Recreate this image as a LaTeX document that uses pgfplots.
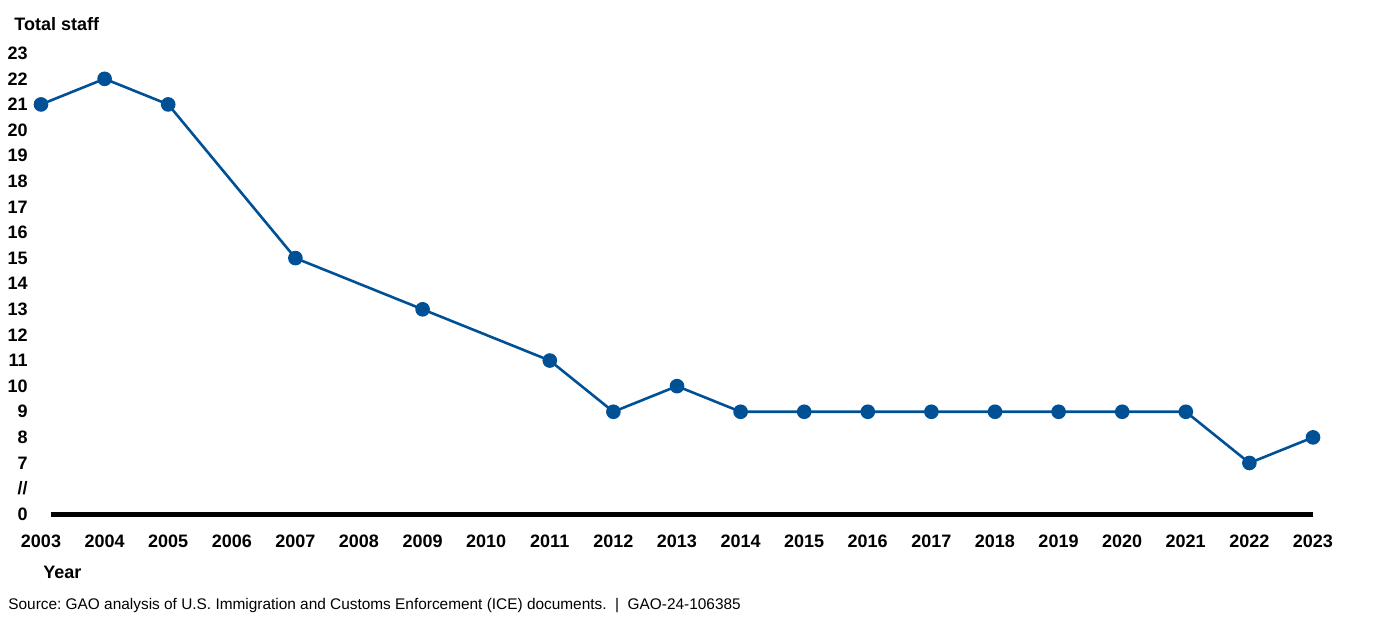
\documentclass[border=0pt]{standalone}
\usepackage{fontspec}
\setmainfont{Liberation Sans}
\usepackage{pgfplots}
\pgfplotsset{compat=1.18}
\definecolor{gaoblue}{RGB}{0,80,150}
\frenchspacing
\begin{document}
\begin{tikzpicture}
\path[use as bounding box] (0,0) rectangle (692pt,314.5pt);
\begin{axis}[
at={(20.5pt,57.4pt)}, anchor=south west,
scale only axis, width=636pt, height=230.5pt,
xmin=2003, xmax=2023, ymin=5, ymax=23,
axis line style={draw=none}, clip=false,
xtick={2003,...,2023}, ytick={5,...,23},
yticklabels={0,//,7,8,9,10,11,12,13,14,15,16,17,18,19,20,21,22,23},
major tick length=0pt, tick style={draw=none},
/pgf/number format/assume math mode=true,
/pgf/number format/1000 sep={},
tick label style={font=\fontsize{9}{11}\selectfont\bfseries, inner sep=0pt},
yticklabel style={anchor=east, xshift=-6.5pt},
xticklabel style={anchor=north, yshift=-10.4pt},
]
\addplot[black, line width=2.5pt, mark=none] coordinates {(2003.15,5) (2023,5)};
\addplot[gaoblue, line width=1.3pt, mark=*, mark size=3pt, mark options={fill=gaoblue, draw=gaoblue}] coordinates {
(2003,21) (2004,22) (2005,21) (2007,15) (2009,13) (2011,11) (2012,9) (2013,10)
(2014,9) (2015,9) (2016,9) (2017,9) (2018,9) (2019,9) (2020,9) (2021,9)
(2022,7) (2023,8)
};
\end{axis}
\node[anchor=base west, inner sep=0pt, font=\fontsize{9}{11}\selectfont\bfseries] at (7pt,299.5pt) {Total staff};
\node[anchor=base west, inner sep=0pt, font=\fontsize{9}{11}\selectfont\bfseries] at (21.5pt,25.5pt) {Year};
\node[anchor=base west, inner sep=0pt, font=\fontsize{7.7}{9}\selectfont] at (4pt,10pt) {Source: GAO analysis of U.S. Immigration and Customs Enforcement (ICE) documents.\ \ |\ \ GAO-24-106385};
\end{tikzpicture}
\end{document}
